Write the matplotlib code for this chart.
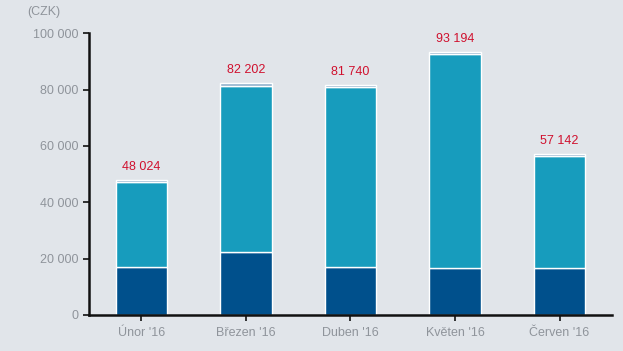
import matplotlib
matplotlib.use('Agg')
import matplotlib.pyplot as plt

plt.rcParams['font.family'] = ['Liberation Sans', 'DejaVu Sans']

months = ['Únor \'16', 'Březen \'16', 'Duben \'16', 'Květen \'16', 'Červen \'16']
dark = [16900, 22200, 17000, 16600, 16600]
mid = [30400, 59000, 63800, 76000, 39800]
top = [700, 1000, 900, 600, 700]
totals = [48024, 82202, 81740, 93194, 57142]
total_labels = ['48 024', '82 202', '81 740', '93 194', '57 142']

bg = '#e1e5ea'
fig = plt.figure(figsize=(6.23, 3.51), dpi=100, facecolor=bg)
ax = fig.add_axes([0.143, 0.1026, 0.839, 0.803], facecolor=bg)

x = range(len(months))
w = 0.49
ax.bar(x, dark, width=w, color='#00508c', edgecolor='white', linewidth=1)
bottom2 = [d for d in dark]
ax.bar(x, mid, width=w, bottom=bottom2, color='#179cbd', edgecolor='white', linewidth=1)
bottom3 = [d + m for d, m in zip(dark, mid)]
ax.bar(x, top, width=w, bottom=bottom3, color='#8fb0cc', edgecolor='white', linewidth=1)

for i, t in enumerate(totals):
    ax.text(i, t + 2500, total_labels[i], ha='center', va='bottom',
            color='#d0102e', fontsize=9)

ax.set_xlim(-0.5, 4.5)
ax.set_ylim(0, 100000)
ax.set_yticks(range(0, 100001, 20000))
ax.set_yticklabels(['0', '20 000', '40 000', '60 000', '80 000', '100 000'])
ax.set_xticks(list(x))
ax.set_xticklabels(months)

for s in ['top', 'right']:
    ax.spines[s].set_visible(False)
ax.spines['left'].set_linewidth(1.8)
ax.spines['bottom'].set_linewidth(1.8)
ax.spines['left'].set_color('#111111')
ax.spines['bottom'].set_color('#111111')
ax.tick_params(axis='both', colors='#111111', labelcolor='#8f949b', labelsize=9,
               length=4, width=1.2)
ax.tick_params(axis='x', pad=5)

fig.text(27 / 623, 1 - 12 / 351, '(CZK)', color='#8f949b', fontsize=9,
         ha='left', va='center')

fig.savefig('out.png', dpi=100, facecolor=bg)
